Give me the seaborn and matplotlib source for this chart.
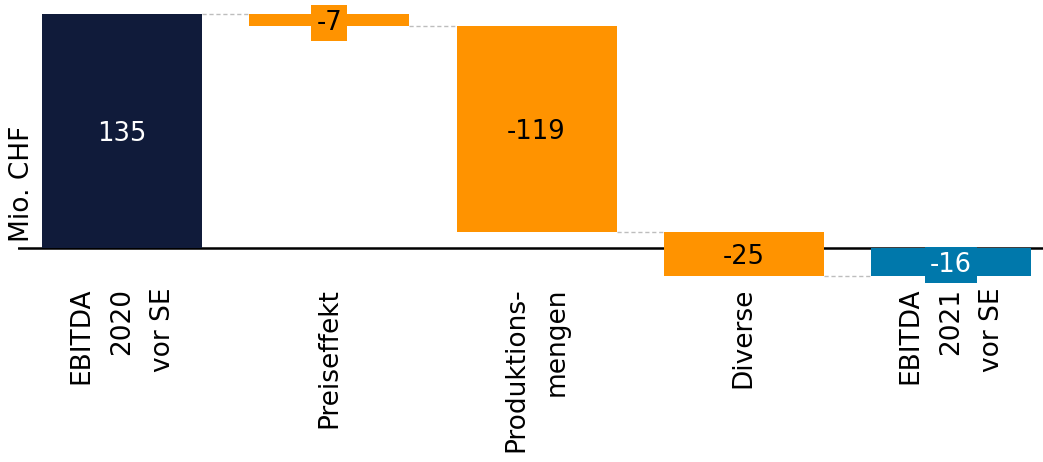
import numpy as np
import pandas as pd
import matplotlib
matplotlib.use("Agg")
import matplotlib.pyplot as plt
import seaborn as sns

# Waterfall: EBITDA bridge 2020 -> 2021 (Mio. CHF)
categories = ["EBITDA\n2020\nvor SE", "Preiseffekt", "Produktions-\nmengen", "Diverse", "EBITDA\n2021\nvor SE"]
values = [135, -7, -119, -25, -16]
kinds = ["total", "delta", "delta", "delta", "total"]
labels = ["135", "-7", "-119", "-25", "-16"]

NAVY = "#101b3a"
ORANGE = "#ff9300"
BLUE = "#0078ab"
bar_colors = [NAVY, ORANGE, ORANGE, ORANGE, BLUE]
text_colors = ["white", "black", "black", "black", "white"]

# floating bar geometry from the running total
bottoms, ends = [], []
running = 0
for v, k in zip(values, kinds):
    if k == "total":
        bottoms.append(0)
        running = v
    else:
        bottoms.append(running)
        running += v
    ends.append(bottoms[-1] + v)

df = pd.DataFrame({"cat": categories, "val": values, "bottom": bottoms})

sns.set_theme(style="white")
plt.rcParams["font.family"] = ["DejaVu Sans"]
plt.rcParams["text.color"] = "black"

fig = plt.figure(figsize=(10.43, 4.62), dpi=100)
ax = fig.add_axes([18 / 1043, (462 - 285) / 462, 1025 / 1043, 285 / 462])

width = 0.772
sns.barplot(data=df, x="cat", y="val", order=categories, bottom=df["bottom"].values,
            color=NAVY, width=width, errorbar=None, ax=ax, zorder=2, linewidth=0,
            saturation=1)
for patch, c in zip(ax.patches, bar_colors):
    patch.set_facecolor(c)
    patch.set_edgecolor(c)

# zero line
ax.axhline(0, color="black", lw=1.8, zorder=1)

# dashed connectors between consecutive bars
for i in range(len(values) - 1):
    ax.plot([i + width / 2, i + 1 - width / 2], [ends[i], ends[i]],
            color="#bdbdbd", lw=1, ls=(0, (3, 2)), zorder=1)

# value labels
for i, (lab, b, v) in enumerate(zip(labels, bottoms, values)):
    ax.text(i, b + v / 2, lab, ha="center", va="center_baseline", fontsize=18.5,
            color=text_colors[i], zorder=5,
            bbox=dict(boxstyle="square,pad=0.2", facecolor=bar_colors[i],
                      edgecolor="none"))

ax.set_xlim(-0.502, 4.444)
ax.set_ylim(-21.3, 143.1)
ax.set_yticks([])
ax.set_xticks(range(len(categories)))
ax.set_xticklabels(categories, rotation=90, ha="center", va="top",
                   multialignment="right", fontsize=19, color="black",
                   linespacing=1.75)
ax.tick_params(axis="x", length=0, pad=2)
ax.set_xlabel("")
ax.set_ylabel("Mio. CHF", fontsize=19, color="black")
ax.yaxis.set_label_coords(0.0166, 0.354)
for s in ax.spines.values():
    s.set_visible(False)

fig.savefig("out.png", dpi=100)
